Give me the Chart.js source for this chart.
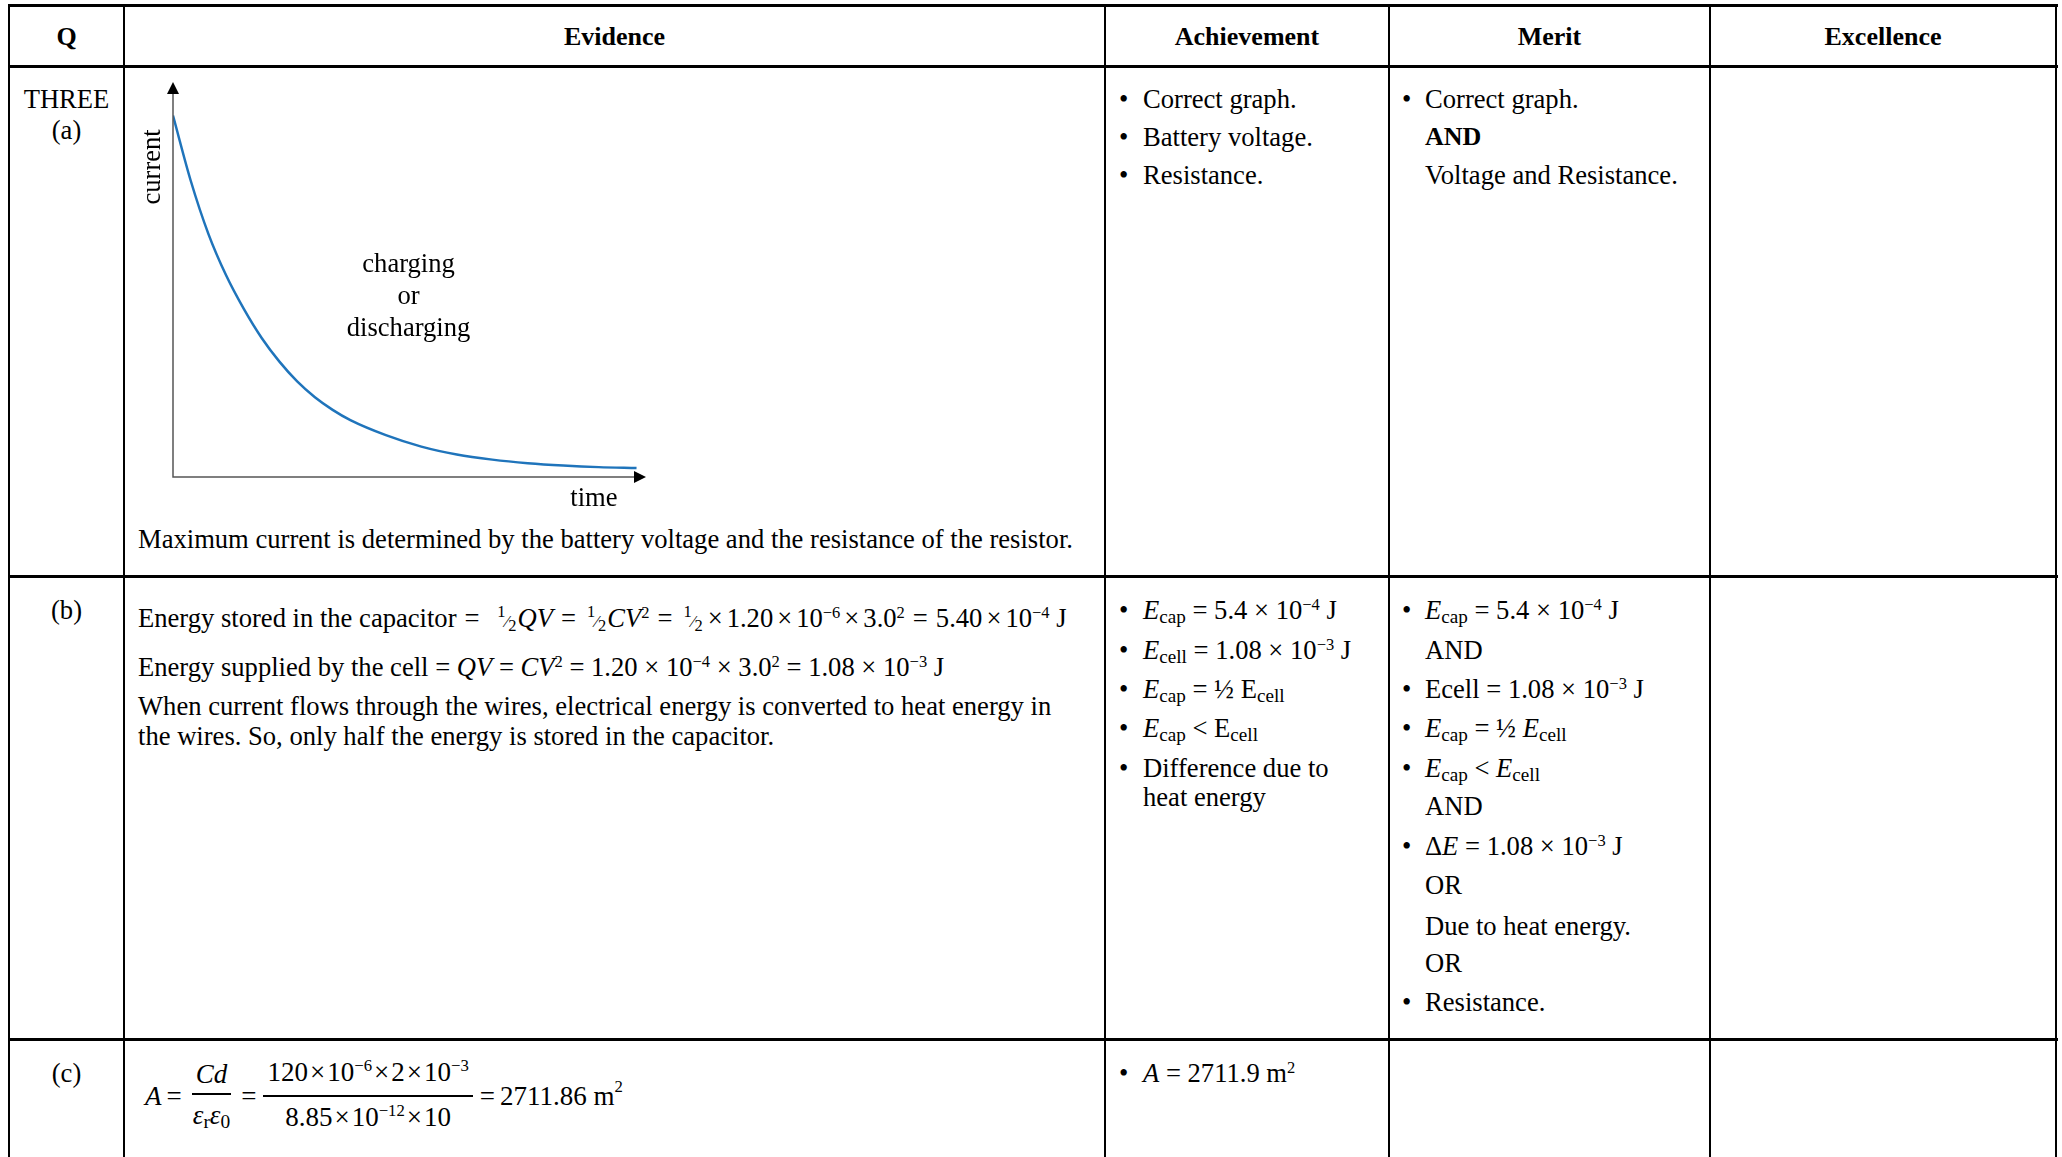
<!DOCTYPE html>
<html>
<head>
<meta charset="utf-8">
<script src="https://cdn.jsdelivr.net/npm/chart.js@4.4.1/dist/chart.umd.min.js"></script>
<style>
    html, body { margin: 0; padding: 0; background: #fff; }
    body { width: 2062px; height: 1157px; position: relative; overflow: hidden;
           font-family: "Liberation Serif", "Times New Roman", serif; font-size: 26.6px; color: #000; }
    .h, .v { position: absolute; background: #000; }
    .h { height: 3px; }
    .v { width: 2px; }
    .t { position: absolute; white-space: nowrap; line-height: 30px; }
    .c { text-align: center; }
    .b { font-weight: bold; font-size: 26px; }
    i { font-style: italic; }
    .sup { font-size: 0.62em; position: relative; top: -0.55em; }
    .sub { font-size: 0.72em; position: relative; top: 0.22em; }
    .hf { font-size: 0.62em; margin: 0 1px 0 3px; }
    .hf .n { position: relative; top: -0.6em; }
    .hf .d { position: relative; top: 0.25em; }
    .op { margin: 0 4px; }
    .eq { margin: 0 8px; }
    .fx { margin: 0 2px; }
    .fe { margin: 0 5px; }
    .frac { display: inline-flex; flex-direction: column; align-items: center; vertical-align: middle; margin: 0 2px; }
    .frac .num { border-bottom: 2px solid #000; padding: 0 4px 3px; line-height: 32px; }
    .frac .den { padding: 4px 4px 0; line-height: 32px; }
    #chartBox { position: absolute; left: 126px; top: 68px; }
</style>
</head>
<body>

<!-- table lines -->
<div class="h" style="left:8px; top:4px; width:2050px;"></div>
<div class="h" style="left:8px; top:65px; width:2050px;"></div>
<div class="h" style="left:8px; top:575px; width:2050px;"></div>
<div class="h" style="left:8px; top:1038px; width:2050px;"></div>
<div class="v" style="left:8px; top:4px; height:1153px;"></div>
<div class="v" style="left:123px; top:4px; height:1153px;"></div>
<div class="v" style="left:1104px; top:4px; height:1153px;"></div>
<div class="v" style="left:1388px; top:4px; height:1153px;"></div>
<div class="v" style="left:1709px; top:4px; height:1153px;"></div>
<div class="v" style="left:2055px; top:4px; height:1153px;"></div>

<!-- header -->
<div class="t c b" style="left:9px; width:115px; top:22px;">Q</div>
<div class="t c b" style="left:124px; width:981px; top:22px;">Evidence</div>
<div class="t c b" style="left:1105px; width:284px; top:22px;">Achievement</div>
<div class="t c b" style="left:1389px; width:321px; top:22px;">Merit</div>
<div class="t c b" style="left:1710px; width:346px; top:22px;">Excellence</div>

<!-- row (a) -->
<div class="t c" style="left:9px; width:115px; top:84px;">THREE</div>
<div class="t c" style="left:9px; width:115px; top:115px;">(a)</div>

<div id="chartBox"><canvas id="decayChart" width="580" height="450"></canvas></div>

<div class="t" style="left:138px; top:524px;">Maximum current is determined by the battery voltage and the resistance of the resistor.</div>

<div class="t" style="left:1119px; top:84px;">•</div><div class="t" style="left:1143px; top:84px;">Correct graph.</div>
<div class="t" style="left:1119px; top:122px;">•</div><div class="t" style="left:1143px; top:122px;">Battery voltage.</div>
<div class="t" style="left:1119px; top:160px;">•</div><div class="t" style="left:1143px; top:160px;">Resistance.</div>

<div class="t" style="left:1402px; top:84px;">•</div><div class="t" style="left:1425px; top:84px;">Correct graph.</div>
<div class="t b" style="left:1425px; top:122px;">AND</div>
<div class="t" style="left:1425px; top:160px;">Voltage and Resistance.</div>

<!-- row (b) -->
<div class="t c" style="left:9px; width:115px; top:595px;">(b)</div>

<div class="t" style="left:138px; top:603px;">Energy stored in the capacitor<span class="eq">=</span>&nbsp;<span class="hf"><span class="n">1</span>⁄<span class="d">2</span></span><i>QV</i><span class="eq">=</span><span class="hf"><span class="n">1</span>⁄<span class="d">2</span></span><i>CV</i><span class="sup">2</span><span class="eq">=</span><span class="hf"><span class="n">1</span>⁄<span class="d">2</span></span><span class="op">×</span>1.20<span class="op">×</span>10<span class="sup">−6</span><span class="op">×</span>3.0<span class="sup">2</span><span class="eq">=</span>5.40<span class="op">×</span>10<span class="sup">−4</span> J</div>
<div class="t" style="left:138px; top:652px;">Energy supplied by the cell = <i>QV</i> = <i>CV</i><span class="sup">2</span> = 1.20 × 10<span class="sup">−4</span> × 3.0<span class="sup">2</span> = 1.08 × 10<span class="sup">−3</span> J</div>
<div class="t" style="left:138px; top:691px;">When current flows through the wires, electrical energy is converted to heat energy in</div>
<div class="t" style="left:138px; top:721px;">the wires. So, only half the energy is stored in the capacitor.</div>

<div class="t" style="left:1119px; top:595px;">•</div><div class="t" style="left:1143px; top:595px;"><i>E</i><span class="sub">cap</span> = 5.4 × 10<span class="sup">−4</span> J</div>
<div class="t" style="left:1119px; top:635px;">•</div><div class="t" style="left:1143px; top:635px;"><i>E</i><span class="sub">cell</span> = 1.08 × 10<span class="sup">−3</span> J</div>
<div class="t" style="left:1119px; top:674px;">•</div><div class="t" style="left:1143px; top:674px;"><i>E</i><span class="sub">cap</span> = ½ E<span class="sub">cell</span></div>
<div class="t" style="left:1119px; top:713px;">•</div><div class="t" style="left:1143px; top:713px;"><i>E</i><span class="sub">cap</span> &lt; E<span class="sub">cell</span></div>
<div class="t" style="left:1119px; top:753px;">•</div><div class="t" style="left:1143px; top:753px;">Difference due to</div>
<div class="t" style="left:1143px; top:782px;">heat energy</div>

<div class="t" style="left:1402px; top:595px;">•</div><div class="t" style="left:1425px; top:595px;"><i>E</i><span class="sub">cap</span> = 5.4 × 10<span class="sup">−4</span> J</div>
<div class="t" style="left:1425px; top:635px;">AND</div>
<div class="t" style="left:1402px; top:674px;">•</div><div class="t" style="left:1425px; top:674px;">Ecell = 1.08 × 10<span class="sup">−3</span> J</div>
<div class="t" style="left:1402px; top:713px;">•</div><div class="t" style="left:1425px; top:713px;"><i>E</i><span class="sub">cap</span> = ½ <i>E</i><span class="sub">cell</span></div>
<div class="t" style="left:1402px; top:753px;">•</div><div class="t" style="left:1425px; top:753px;"><i>E</i><span class="sub">cap</span> &lt; <i>E</i><span class="sub">cell</span></div>
<div class="t" style="left:1425px; top:791px;">AND</div>
<div class="t" style="left:1402px; top:831px;">•</div><div class="t" style="left:1425px; top:831px;">Δ<i>E</i> = 1.08 × 10<span class="sup">−3</span> J</div>
<div class="t" style="left:1425px; top:870px;">OR</div>
<div class="t" style="left:1425px; top:911px;">Due to heat energy.</div>
<div class="t" style="left:1425px; top:948px;">OR</div>
<div class="t" style="left:1402px; top:987px;">•</div><div class="t" style="left:1425px; top:987px;">Resistance.</div>

<!-- row (c) -->
<div class="t c" style="left:9px; width:115px; top:1058px;">(c)</div>
<div class="t" style="left:145px; top:1058px; line-height:normal; display:flex; align-items:center; height:76px; font-size:27px;">
    <i>A</i><span class="fe">=</span><span class="frac"><span class="num"><i>Cd</i></span><span class="den"><i>ε</i><span class="sub">r</span><i>ε</i><span class="sub">0</span></span></span><span class="fe">=</span><span class="frac"><span class="num">120<span class="fx">×</span>10<span class="sup">−6</span><span class="fx">×</span>2<span class="fx">×</span>10<span class="sup">−3</span></span><span class="den">8.85<span class="fx">×</span>10<span class="sup">−12</span><span class="fx">×</span>10</span></span><span class="fe">=</span>2711.86 m<span class="sup">2</span>
</div>
<div class="t" style="left:1119px; top:1058px;">•</div><div class="t" style="left:1143px; top:1058px;"><i>A</i> = 2711.9 m<span class="sup">2</span></div>

<script>
// values (arbitrary units, axes run 0..10)
const timeValues = [0, 0.375, 0.75, 1.125, 1.5, 1.875, 2.25, 2.625, 3.0, 3.375, 3.75, 4.5, 5.25, 6.0, 6.75, 7.5, 8.25, 9.0, 9.8];
const currentValues = [9.15, 7.5, 6.15, 5.1, 4.25, 3.52, 2.92, 2.42, 2.02, 1.7, 1.44, 1.06, 0.77, 0.57, 0.44, 0.35, 0.29, 0.25, 0.23];
const yAxisLabel = 'current';
const xAxisLabel = 'time';
const curveNote = ['charging', 'or', 'discharging'];

document.addEventListener('DOMContentLoaded', function() {
    const ctx = document.getElementById('decayChart').getContext('2d');

    // axes with arrowheads plus the hand-written labels
    const sketchAxes = {
        id: 'sketchAxes',
        afterDraw(chart) {
            const c = chart.ctx;
            const xs = chart.scales.x;
            const ys = chart.scales.y;
            const x0 = xs.getPixelForValue(0);
            const y0 = ys.getPixelForValue(0);
            const xEnd = xs.getPixelForValue(10);
            const yEnd = ys.getPixelForValue(10);

            c.save();
            c.strokeStyle = '#555';
            c.lineWidth = 1.5;
            c.beginPath();
            c.moveTo(x0, yEnd + 8);
            c.lineTo(x0, y0);
            c.lineTo(xEnd - 8, y0);
            c.stroke();

            c.fillStyle = '#000';
            c.beginPath();
            c.moveTo(x0, yEnd);
            c.lineTo(x0 - 6, yEnd + 12);
            c.lineTo(x0 + 6, yEnd + 12);
            c.closePath();
            c.fill();
            c.beginPath();
            c.moveTo(xEnd, y0);
            c.lineTo(xEnd - 12, y0 - 6);
            c.lineTo(xEnd - 12, y0 + 6);
            c.closePath();
            c.fill();

            c.font = '26.6px "Liberation Serif", "Times New Roman", serif';
            c.textAlign = 'center';
            c.textBaseline = 'middle';
            c.fillText(xAxisLabel, xs.getPixelForValue(8.9), y0 + 22);

            const noteX = xs.getPixelForValue(4.98);
            curveNote.forEach(function(line, i) {
                c.fillText(line, noteX, ys.getPixelForValue(5.48) + 4 + i * 32);
            });

            c.translate(x0 - 20, ys.getPixelForValue(7.85));
            c.rotate(-Math.PI / 2);
            c.fillText(yAxisLabel, 0, 0);
            c.restore();
        }
    };

    new Chart(ctx, {
        type: 'line',
        data: {
            datasets: [{
                data: timeValues.map(function(t, i) { return { x: t, y: currentValues[i] }; }),
                borderColor: '#1f74bb',
                borderWidth: 2.5,
                pointRadius: 0,
                cubicInterpolationMode: 'monotone',
                fill: false
            }]
        },
        options: {
            responsive: false,
            animation: false,
            devicePixelRatio: 1,
            layout: { padding: { left: 47, top: 14, right: 60, bottom: 41 } },
            plugins: {
                legend: { display: false },
                tooltip: { enabled: false }
            },
            scales: {
                x: { type: 'linear', min: 0, max: 10, display: false },
                y: { min: 0, max: 10, display: false }
            }
        },
        plugins: [sketchAxes]
    });
});
</script>
</body>
</html>
